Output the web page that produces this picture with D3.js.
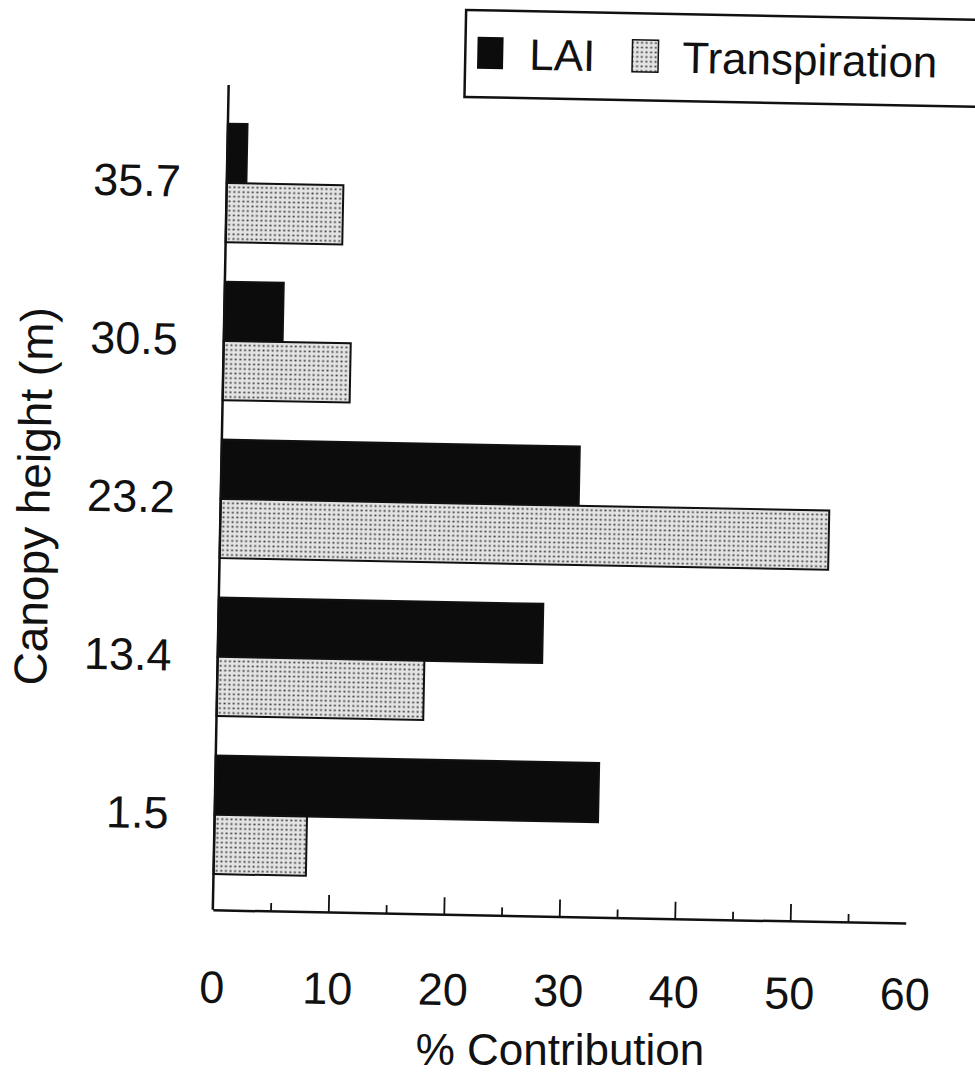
<!DOCTYPE html>
<html>
<head>
<meta charset="utf-8">
<script src="https://cdn.jsdelivr.net/npm/d3@7"></script>
<style>
  html, body { margin: 0; padding: 0; background: #fff; }
  svg { display: block; }
  text { font-family: "Liberation Sans", Arial, Helvetica, sans-serif; fill: #111; }
</style>
</head>
<body>
<div id="chart"></div>
<script>
// ---- data ----
const categories = ["35.7", "30.5", "23.2", "13.4", "1.5"];
const seriesNames = ["LAI", "Transpiration"];
const laiValues = [1.7, 5.1, 31.0, 28.1, 33.2];
const transpirationValues = [10.1, 11.0, 52.7, 17.9, 8.0];
const xMajorTicks = [0, 10, 20, 30, 40, 50, 60];
const xMinorTicks = [5, 15, 25, 35, 45, 55];
const xTitle = "% Contribution";
const yTitle = "Canopy height (m)";

const W = 975, H = 1077;
const svg = d3.select("#chart").append("svg").attr("width", W).attr("height", H);

const defs = svg.append("defs");
const pat = defs.append("pattern")
  .attr("id", "dots").attr("patternUnits", "userSpaceOnUse")
  .attr("width", 4.6).attr("height", 4.7);
pat.append("rect").attr("width", 4.6).attr("height", 4.7).attr("fill", "#e4e4e4");
pat.append("rect").attr("x", 1.4).attr("y", 1.5).attr("width", 1.9).attr("height", 1.7).attr("fill", "#3a3a3a");

// whole scanned figure is slightly rotated
const g = svg.append("g").attr("transform", "rotate(1.1, 487, 538)");

const x0 = 220, x1 = 913, yAxisTop = 90, xAxisY = 915;

const x = d3.scaleLinear().domain([0, 60]).range([x0, x1]);
const y = d3.scaleBand().domain(categories).range([109, 899]).paddingInner(0.25).paddingOuter(0.125);
const ySub = d3.scaleBand().domain(seriesNames).range([0, y.bandwidth()]);

const rows = categories.map((c, i) => ({ cat: c, vals: [laiValues[i], transpirationValues[i]] }));

// bars
const grp = g.append("g").selectAll("g").data(rows).join("g")
  .attr("transform", d => `translate(0,${y(d.cat)})`);
grp.selectAll("rect").data(d => d.vals.map((v, j) => ({ name: seriesNames[j], v })))
  .join("rect")
  .attr("x", x(0))
  .attr("y", d => ySub(d.name))
  .attr("width", d => x(d.v) - x(0))
  .attr("height", ySub.bandwidth())
  .attr("fill", d => d.name === "LAI" ? "#0c0c0c" : "url(#dots)")
  .attr("stroke", "#111")
  .attr("stroke-width", 2);

// y axis line
g.append("line").attr("x1", x0).attr("x2", x0).attr("y1", yAxisTop).attr("y2", xAxisY)
  .attr("stroke", "#111").attr("stroke-width", 2.5);

// y category labels
const yAxis = g.append("g").attr("transform", `translate(${x0},0)`)
  .call(d3.axisLeft(y).tickSize(0).tickPadding(46));
yAxis.select(".domain").remove();
yAxis.selectAll("text").style("font-size", "45px")
  .style("font-family", "'Liberation Sans', Arial, sans-serif").attr("fill", "#111");

// x axis
const tickPad = 61;
const xAxisG = g.append("g").attr("transform", `translate(0,${xAxisY})`)
  .call(d3.axisBottom(x).tickValues(xMajorTicks).tickSizeInner(-17).tickSizeOuter(0).tickPadding(tickPad).tickFormat(d3.format("d")));
xAxisG.select(".domain").attr("stroke", "#111").attr("stroke-width", 2.5);
xAxisG.selectAll(".tick line").attr("stroke", "#111").attr("stroke-width", 1.8);
xAxisG.selectAll(".tick").filter(d => d === 0 || d === 60).select("line").remove();
xAxisG.selectAll("text").style("font-size", "45px")
  .style("font-family", "'Liberation Sans', Arial, sans-serif").attr("fill", "#111")
  .attr("y", d => tickPad - (x(d) - x0) * 0.009);

const xMinor = g.append("g").attr("transform", `translate(0,${xAxisY})`)
  .call(d3.axisBottom(x).tickValues(xMinorTicks).tickSizeInner(-8).tickSizeOuter(0).tickFormat(""));
xMinor.select(".domain").remove();
xMinor.selectAll(".tick line").attr("stroke", "#111").attr("stroke-width", 1.8);

// axis titles (x title kept level so it stays inside the page)
svg.append("text").attr("x", 560).attr("y", 1065)
  .attr("text-anchor", "middle").style("font-size", "44px").text(xTitle);
g.append("text").attr("transform", "translate(49,505) rotate(-90)")
  .attr("text-anchor", "middle").style("font-size", "46px").text(yTitle);

// legend
const lg = g.append("g");
lg.append("rect").attr("x", 456).attr("y", 10.5).attr("width", 560).attr("height", 87)
  .attr("fill", "#fff").attr("stroke", "#111").attr("stroke-width", 2.5);
const legendItems = [
  { name: seriesNames[0], sx: 468, tx: 520 },
  { name: seriesNames[1], sx: 623, tx: 673 }
];
legendItems.forEach(it => {
  lg.append("rect").attr("x", it.sx).attr("y", 37).attr("width", 26).attr("height", 32)
    .attr("fill", it.name === "LAI" ? "#0c0c0c" : "url(#dots)")
    .attr("stroke", "#111").attr("stroke-width", it.name === "LAI" ? 0 : 1.5);
  lg.append("text").attr("x", it.tx).attr("y", 69).style("font-size", "44px").text(it.name);
});
</script>
</body>
</html>
